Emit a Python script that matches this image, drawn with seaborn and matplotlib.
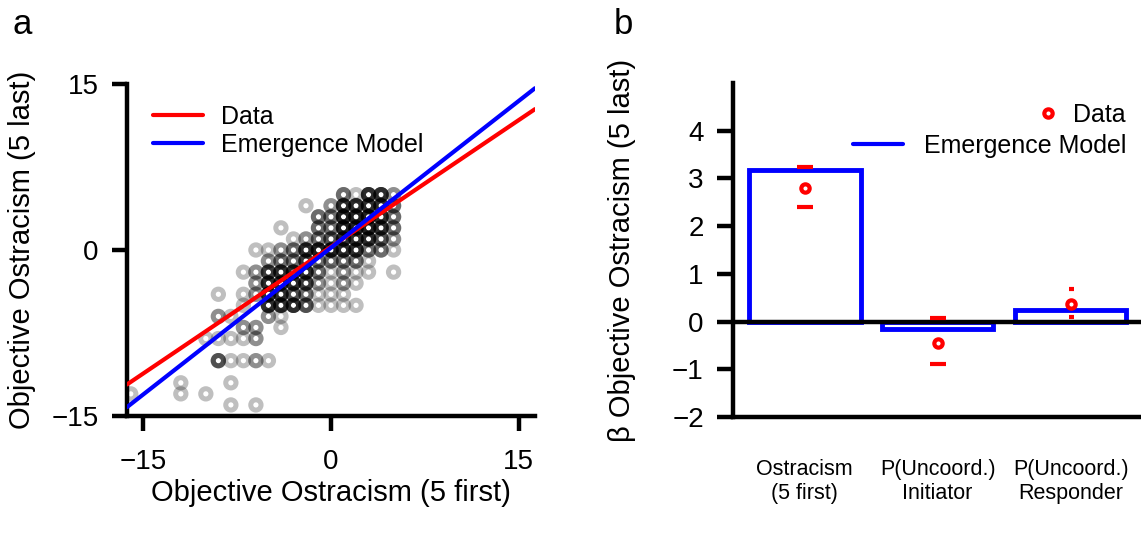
import numpy as np
import pandas as pd
import matplotlib
matplotlib.use('Agg')
import matplotlib.pyplot as plt
from matplotlib.lines import Line2D
import seaborn as sns

# ---- panel a: objective ostracism, 5 first vs 5 last rounds ----
# grid points and how many subjects sit on each one (one row per y value)
pts_x = [1, 2, 3, 4, 5,
         -2, 0, 1, 2, 3, 4, 5,
         -1, 0, 1, 2, 3, 4, 5,
         -4, -1, 0, 1, 2, 3, 4, 5,
         -3, -2, -1, 0, 1, 2, 3, 4, 5,
         -6, -5, -4, -3, -2, -1, 0, 1, 2, 3, 4, 5,
         -5, -4, -3, -2, -1, 0, 1, 2, 3,
         -7, -6, -5, -4, -3, -2, -1, 0, 1, 2, 3, 5,
         -6, -5, -4, -3, -2, -1, 0, 1, 2,
         -9, -7, -6, -5, -4, -3, -2, -1, 0, 1,
         -7, -5, -4, -3, -2, -1, 0, 1, 2,
         -9, -8, -5, -4,
         -7, -6, -4,
         -10, -9, -8, -7, -6,
         -9, -8, -7, -6, -5,
         -12, -8,
         -16, -12, -10,
         -8, -6]
pts_y = ([5] * 5 + [4] * 7 + [3] * 7 + [2] * 8 + [1] * 9 + [0] * 12
         + [-1] * 9 + [-2] * 12 + [-3] * 9 + [-4] * 10 + [-5] * 9
         + [-6] * 4 + [-7] * 3 + [-8] * 5 + [-10] * 5 + [-12] * 2
         + [-13] * 3 + [-14] * 2)
pts_n = [3, 1, 6, 6, 2,
         1, 2, 6, 6, 6, 6, 3,
         3, 3, 7, 7, 7, 6, 3,
         1, 3, 3, 7, 7, 7, 6, 3,
         1, 2, 3, 4, 6, 6, 6, 4, 2,
         1, 1, 2, 3, 6, 7, 7, 6, 6, 3, 3, 1,
         2, 3, 3, 5, 3, 3, 3, 3, 1,
         1, 2, 5, 6, 6, 6, 3, 1, 2, 1, 1, 1,
         2, 6, 6, 6, 5, 2, 1, 2, 1,
         1, 1, 2, 6, 6, 4, 3, 1, 1, 1,
         1, 6, 6, 6, 4, 1, 1, 1, 1,
         2, 1, 2, 1,
         2, 2, 1,
         1, 1, 1, 1, 2,
         4, 1, 1, 2, 1,
         1, 1,
         1, 1, 1,
         1, 1]

# fitted lines (end points)
fit_x = [-16.3, 16.3]
data_fit_y = [-12.15, 12.73]
model_fit_y = [-14.2, 14.62]

# ---- panel b: regression weights ----
predictors = ['Ostracism\n(5 first)', 'P(Uncoord.)\nInitiator', 'P(Uncoord.)\nResponder']
model_beta = [3.18, -0.16, 0.25]
data_beta = [2.79, -0.44, 0.37]
data_hi = [3.25, 0.08, 0.69]
data_lo = [2.41, -0.89, 0.10]

sns.set_style('ticks')
plt.rcParams['font.family'] = ['Liberation Sans', 'DejaVu Sans']
plt.rcParams.update({'axes.linewidth': 3.2, 'axes.edgecolor': 'black',
                     'text.color': 'black', 'axes.labelcolor': 'black',
                     'xtick.color': 'black', 'ytick.color': 'black'})

fig = plt.figure(figsize=(11.41, 5.43), dpi=100)
W, H = 1141, 543
ax1 = fig.add_axes([127 / W, 1 - 416 / H, 408 / W, 332 / H])
ax2 = fig.add_axes([733 / W, 1 - 417 / H, 408 / W, 334 / H])

# panel a
df = pd.DataFrame({'first': np.repeat(pts_x, pts_n), 'last': np.repeat(pts_y, pts_n)})
sns.scatterplot(data=df, x='first', y='last', ax=ax1, marker='o', s=55,
                facecolors='none', edgecolor='black', linewidth=3.6, alpha=0.25, zorder=1)
sns.lineplot(x=fit_x, y=data_fit_y, ax=ax1, color='red', lw=3, label='Data', zorder=3)
sns.lineplot(x=fit_x, y=model_fit_y, ax=ax1, color='blue', lw=3, label='Emergence Model', zorder=3)
ax1.set_xlim(-16.3, 16.3)
ax1.set_ylim(-15, 15)
ax1.set_xticks([-15, 0, 15])
ax1.set_yticks([-15, 0, 15])
ax1.tick_params(axis='x', length=11, width=3.2, labelsize=20, pad=13)
ax1.tick_params(axis='y', length=11, width=3.2, labelsize=20, pad=9.5)
ax1.set_xlabel('Objective Ostracism (5 first)', fontsize=21)
ax1.set_ylabel('Objective Ostracism (5 last)', fontsize=21)
ax1.xaxis.set_label_coords(0.5, -0.19)
ax1.yaxis.set_label_coords(-0.222, 0.5)
ax1.legend(loc='upper left', frameon=False, fontsize=18, handlelength=2.0,
           handletextpad=0.72, labelspacing=0.15, borderaxespad=0.3,
           bbox_to_anchor=(0.02, 0.99))
sns.despine(ax=ax1)

# panel b
sns.barplot(x=predictors, y=model_beta, ax=ax2, color='white', edgecolor='blue',
            linewidth=3.5, width=0.84, saturation=1)
ax2.axhline(0, color='black', lw=3.2, zorder=2)
caps = [5.8, 5.8, 1.8]
for i in range(len(predictors)):
    ax2.errorbar(i, data_beta[i], yerr=[[data_beta[i] - data_lo[i]], [data_hi[i] - data_beta[i]]],
                 fmt='o', ms=6, mfc='white', mec='red', mew=3, ecolor='red',
                 elinewidth=0, capsize=caps[i], capthick=3, zorder=4)
ax2.set_xlim(-0.54, 2.53)
ax2.set_ylim(-2, 5)
ax2.set_yticks(range(-2, 5))
ax2.tick_params(axis='y', length=11.5, width=3.2, labelsize=20, pad=9.5)
ax2.tick_params(axis='x', length=0, labelsize=15.5, pad=30)
ax2.set_ylabel('β Objective Ostracism (5 last)', fontsize=21)
ax2.yaxis.set_label_coords(-0.238, 0.5)
sns.despine(ax=ax2)

data_handle = Line2D([], [], ls='none', marker='o', ms=6, mfc='white', mec='red', mew=3)
model_handle = Line2D([], [], color='blue', lw=3)
leg1 = ax2.legend([data_handle], ['Data'], loc='upper right', frameon=False, fontsize=18,
                  handlelength=0.8, handletextpad=0.6, borderpad=0, borderaxespad=0,
                  bbox_to_anchor=(0.963, 0.94))
ax2.add_artist(leg1)
ax2.legend([model_handle], ['Emergence Model'], loc='upper right', frameon=False, fontsize=18,
           handlelength=2.0, handletextpad=0.84, borderpad=0, borderaxespad=0,
           bbox_to_anchor=(0.963, 0.847))

fig.text(22 / W, 1 - 24 / H, 'a', fontsize=25, ha='center', va='center')
fig.text(623 / W, 1 - 24 / H, 'b', fontsize=25, ha='center', va='center')

fig.savefig('out.png', dpi=100)
